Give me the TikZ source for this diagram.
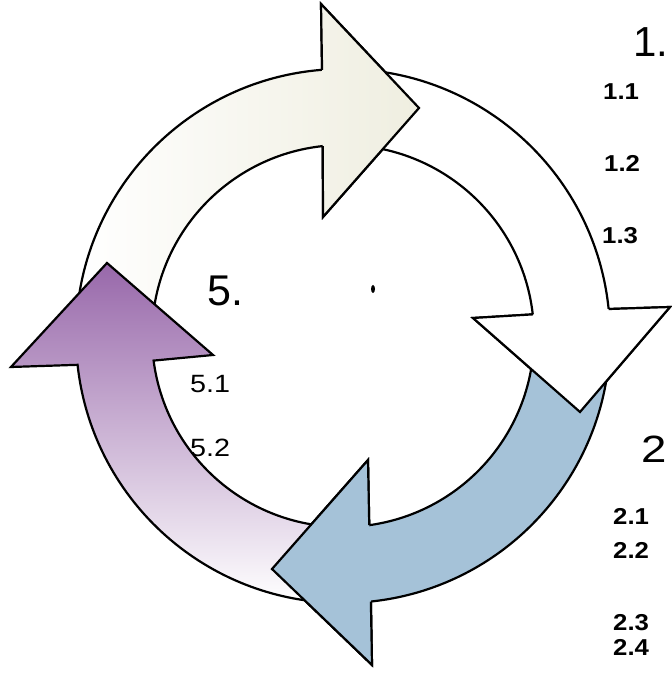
\documentclass[tikz,border=0pt]{standalone}
\usepackage{fontspec}
\setmainfont{Liberation Sans}
\usetikzlibrary{calc}
\definecolor{creamR}{RGB}{239,238,224}
\definecolor{blueC}{RGB}{165,194,216}
\definecolor{purpT}{RGB}{152,104,170}
\tikzset{
  ring/.style={draw=black, line width=2.2pt, line join=miter},
  lbl/.style={anchor=base west, inner sep=0pt, text=black},
  small/.style={lbl, font=\fontsize{23}{23}\selectfont\bfseries, xscale=1.12},
  smallr/.style={lbl, font=\fontsize{25}{25}\selectfont, xscale=1.15},
}
\def\creamP{($(C)+(180:267)$) arc[start angle=180,end angle=94.5,radius=267] -- (321,680) -- (419,576) -- (323,467) -- ($(C)+(96.1:191)$) arc[start angle=96.1,end angle=180,radius=191] -- cycle}
\def\creamH{($(C)+(94.5:267)$) -- (321,680) -- (419,576) -- (323,467) -- ($(C)+(96.1:191)$)}
\def\whiteP{($(C)+(88:267)$) arc[start angle=88,end angle=5.8,radius=267] -- (670,377) -- (580,272) -- (473,366) -- ($(C)+(6.5:191)$) arc[start angle=6.5,end angle=88,radius=191] -- cycle}
\def\whiteH{($(C)+(5.8:267)$) -- (670,377) -- (580,272) -- (473,366) -- ($(C)+(6.5:191)$)}
\def\blueP{($(C)+(0:267)$) arc[start angle=0,end angle=-84,radius=267] -- (372,19) -- (272,115) -- (368,224) -- ($(C)+(-82.1:191)$) arc[start angle=-82.1,end angle=0,radius=191] -- cycle}
\def\blueH{($(C)+(-84:267)$) -- (372,19) -- (272,115) -- (368,224) -- ($(C)+(-82.1:191)$)}
\def\purpP{($(C)+(-92:267)$) arc[start angle=-92,end angle=-173.8,radius=267] -- (11,317) -- (107,421) -- (213,329) -- ($(C)+(-172.6:191)$) arc[start angle=-172.6,end angle=-92,radius=191] -- cycle}
\begin{document}
\begin{tikzpicture}[x=1pt,y=1pt]
\useasboundingbox[fill=white] (0,0) rectangle (671,684);
\coordinate (C) at (343,348);
% full arrows
\shadedraw[ring, left color=white, right color=creamR] \creamP;
\filldraw[ring, fill=white] \whiteP;
\filldraw[ring, fill=blueC] \blueP;
\shadedraw[ring, top color=purpT, bottom color=white] \purpP;
% heads on top of the following tails
\begin{scope}
  \clip \creamH -- cycle;
  \shade[left color=white, right color=creamR] \creamP;
\end{scope}
\draw[ring] \creamH;
\fill[white] \whiteH -- cycle;
\draw[ring] \whiteH;
\fill[blueC] \blueH -- cycle;
\draw[ring] \blueH;
% centre dot
\fill[black] (373,395) ellipse [x radius=2, y radius=4];
% labels
\node[lbl, font=\fontsize{42}{42}\selectfont] (t1) at (633,627) {1.};
\node[small] (t11) at (603,584) {1.1};
\node[small] (t12) at (604,512) {1.2};
\node[small] (t13) at (602,440) {1.3};
\node[lbl, font=\fontsize{38}{38}\selectfont, xscale=1.2] (t2) at (641,221) {2};
\node[small] (t21) at (613,159) {2.1};
\node[small] (t22) at (613,125) {2.2};
\node[small] (t23) at (613,53) {2.3};
\node[small] (t24) at (613,28) {2.4};
\node[lbl, font=\fontsize{43}{43}\selectfont] (t5) at (207,378) {5.};
\node[smallr] (t51) at (190,291) {5.1};
\node[smallr] (t52) at (190,227) {5.2};
\end{tikzpicture}
\end{document}
